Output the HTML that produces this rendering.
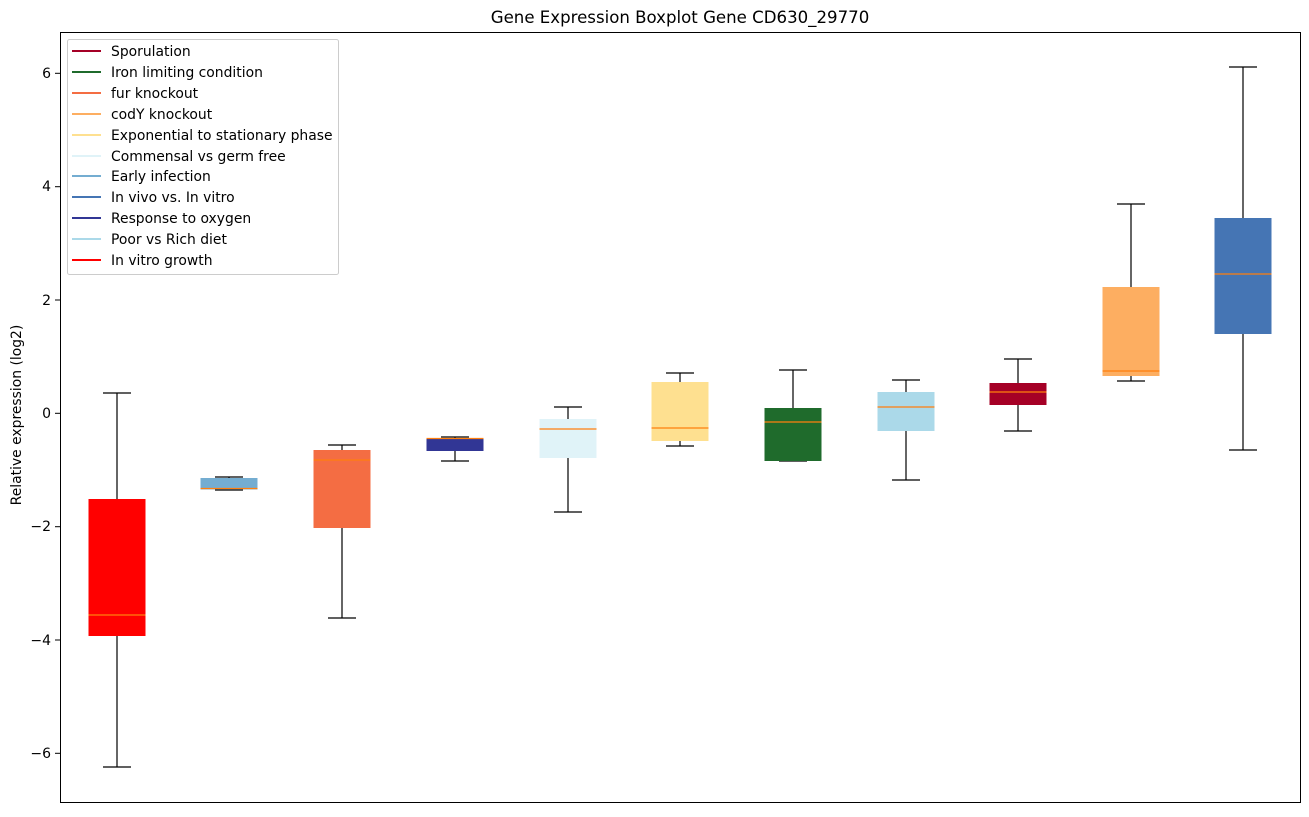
<!DOCTYPE html>
<html><head><meta charset="utf-8"><style>
body{margin:0;background:#fff}
svg text{font-family:"DejaVu Sans","Liberation Sans",sans-serif;fill:#000}
</style></head><body>
<svg width="1309" height="812" xmlns="http://www.w3.org/2000/svg">
<rect width="1309" height="812" fill="#fff"/>
<text x="680" y="23" font-size="16.6" text-anchor="middle">Gene Expression Boxplot Gene CD630_29770</text>
<g stroke="#000" stroke-width="1">
<line x1="55" y1="73.3" x2="60" y2="73.3"/><line x1="55" y1="186.7" x2="60" y2="186.7"/>
<line x1="55" y1="300" x2="60" y2="300"/><line x1="55" y1="413.3" x2="60" y2="413.3"/>
<line x1="55" y1="526.7" x2="60" y2="526.7"/><line x1="55" y1="640" x2="60" y2="640"/>
<line x1="55" y1="753.3" x2="60" y2="753.3"/>
</g>
<g font-size="14" text-anchor="end">
<text x="51" y="78">6</text><text x="51" y="191">4</text><text x="51" y="305">2</text>
<text x="51" y="418">0</text><text x="51" y="531">−2</text><text x="51" y="645">−4</text><text x="51" y="758">−6</text>
</g>
<text transform="translate(21,415) rotate(-90)" font-size="13.9" text-anchor="middle">Relative expression (log2)</text>
<g stroke-width="1.2">
<!-- 1 -->
<line x1="117" y1="393" x2="117" y2="767" stroke="#000"/><line x1="103" y1="393" x2="131" y2="393" stroke="#000"/><line x1="103" y1="767" x2="131" y2="767" stroke="#000"/>
<rect x="88.5" y="499" width="57" height="137" fill="#ff0000"/><line x1="88.5" y1="615" x2="145.5" y2="615" stroke="#ff7f0e"/>
<!-- 2 -->
<line x1="229" y1="477" x2="229" y2="490" stroke="#000"/><line x1="215" y1="477" x2="243" y2="477" stroke="#000"/><line x1="215" y1="490" x2="243" y2="490" stroke="#000"/>
<rect x="200.5" y="478" width="57" height="11.5" fill="#74add1"/><line x1="200.5" y1="488.5" x2="257.5" y2="488.5" stroke="#ff7f0e"/>
<!-- 3 -->
<line x1="342" y1="445" x2="342" y2="618" stroke="#000"/><line x1="328" y1="445" x2="356" y2="445" stroke="#000"/><line x1="328" y1="618" x2="356" y2="618" stroke="#000"/>
<rect x="313.5" y="450" width="57" height="78" fill="#f46d43"/><line x1="313.5" y1="460" x2="370.5" y2="460" stroke="#ff7f0e"/>
<!-- 4 -->
<line x1="455" y1="437" x2="455" y2="461" stroke="#000"/><line x1="441" y1="437" x2="469" y2="437" stroke="#000"/><line x1="441" y1="461" x2="469" y2="461" stroke="#000"/>
<rect x="426.5" y="438" width="57" height="13" fill="#313695"/><line x1="426.5" y1="438.5" x2="483.5" y2="438.5" stroke="#ff7f0e"/>
<!-- 5 -->
<line x1="568" y1="407" x2="568" y2="512" stroke="#000"/><line x1="554" y1="407" x2="582" y2="407" stroke="#000"/><line x1="554" y1="512" x2="582" y2="512" stroke="#000"/>
<rect x="539.5" y="419" width="57" height="39" fill="#e0f3f8"/><line x1="539.5" y1="429" x2="596.5" y2="429" stroke="#ff7f0e"/>
<!-- 6 -->
<line x1="680" y1="373" x2="680" y2="446" stroke="#000"/><line x1="666" y1="373" x2="694" y2="373" stroke="#000"/><line x1="666" y1="446" x2="694" y2="446" stroke="#000"/>
<rect x="651.5" y="382" width="57" height="59" fill="#fee090"/><line x1="651.5" y1="428" x2="708.5" y2="428" stroke="#ff7f0e"/>
<!-- 7 -->
<line x1="793" y1="370" x2="793" y2="461" stroke="#000"/><line x1="779" y1="370" x2="807" y2="370" stroke="#000"/><line x1="779" y1="461" x2="807" y2="461" stroke="#000"/>
<rect x="764.5" y="408" width="57" height="53" fill="#1f6b2c"/><line x1="764.5" y1="422" x2="821.5" y2="422" stroke="#ff7f0e"/>
<!-- 8 -->
<line x1="906" y1="380" x2="906" y2="480" stroke="#000"/><line x1="892" y1="380" x2="920" y2="380" stroke="#000"/><line x1="892" y1="480" x2="920" y2="480" stroke="#000"/>
<rect x="877.5" y="392" width="57" height="39" fill="#abd9e9"/><line x1="877.5" y1="407" x2="934.5" y2="407" stroke="#ff7f0e"/>
<!-- 9 -->
<line x1="1018" y1="359" x2="1018" y2="431" stroke="#000"/><line x1="1004" y1="359" x2="1032" y2="359" stroke="#000"/><line x1="1004" y1="431" x2="1032" y2="431" stroke="#000"/>
<rect x="989.5" y="383" width="57" height="22" fill="#a50026"/><line x1="989.5" y1="392" x2="1046.5" y2="392" stroke="#ff7f0e"/>
<!-- 10 -->
<line x1="1131" y1="204" x2="1131" y2="381" stroke="#000"/><line x1="1117" y1="204" x2="1145" y2="204" stroke="#000"/><line x1="1117" y1="381" x2="1145" y2="381" stroke="#000"/>
<rect x="1102.5" y="287" width="57" height="89" fill="#fdae61"/><line x1="1102.5" y1="371" x2="1159.5" y2="371" stroke="#ff7f0e"/>
<!-- 11 -->
<line x1="1243" y1="67" x2="1243" y2="450" stroke="#000"/><line x1="1229" y1="67" x2="1257" y2="67" stroke="#000"/><line x1="1229" y1="450" x2="1257" y2="450" stroke="#000"/>
<rect x="1214.5" y="218" width="57" height="116" fill="#4575b4"/><line x1="1214.5" y1="274" x2="1271.5" y2="274" stroke="#ff7f0e"/>
</g>
<rect x="60.5" y="32.5" width="1240" height="770" fill="none" stroke="#000"/>
<rect x="67.5" y="39.5" width="271" height="235" rx="2" fill="#fff" stroke="#ccc"/>
<g font-size="13.9" stroke-width="2">
<line x1="72" y1="51" x2="101" y2="51" stroke="#a50026"/><text x="111" y="56">Sporulation</text>
<line x1="72" y1="72" x2="101" y2="72" stroke="#1f6b2c"/><text x="111" y="77">Iron limiting condition</text>
<line x1="72" y1="93" x2="101" y2="93" stroke="#f46d43"/><text x="111" y="98">fur knockout</text>
<line x1="72" y1="114" x2="101" y2="114" stroke="#fdae61"/><text x="111" y="119">codY knockout</text>
<line x1="72" y1="135" x2="101" y2="135" stroke="#fee090"/><text x="111" y="140">Exponential to stationary phase</text>
<line x1="72" y1="156" x2="101" y2="156" stroke="#e0f3f8"/><text x="111" y="161">Commensal vs germ free</text>
<line x1="72" y1="176" x2="101" y2="176" stroke="#74add1"/><text x="111" y="181">Early infection</text>
<line x1="72" y1="197" x2="101" y2="197" stroke="#4575b4"/><text x="111" y="202">In vivo vs. In vitro</text>
<line x1="72" y1="218" x2="101" y2="218" stroke="#313695"/><text x="111" y="223">Response to oxygen</text>
<line x1="72" y1="239" x2="101" y2="239" stroke="#abd9e9"/><text x="111" y="244">Poor vs Rich diet</text>
<line x1="72" y1="260" x2="101" y2="260" stroke="#ff0000"/><text x="111" y="265">In vitro growth</text>
</g>
</svg>
</body></html>
